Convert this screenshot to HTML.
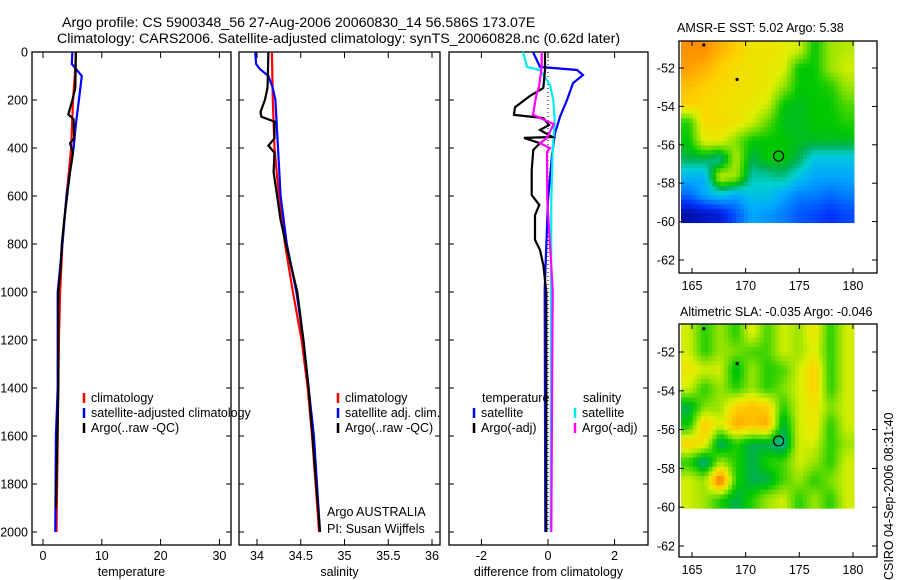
<!DOCTYPE html>
<html><head><meta charset="utf-8"><style>
body{margin:0;background:#fff;}
svg{display:block;font-family:"Liberation Sans",sans-serif;}
text{fill:#000;}
</style></head><body>
<svg id="c" width="900" height="580" viewBox="0 0 900 580">
<text x="62" y="27" font-size="14.2">Argo profile: CS 5900348_56 27-Aug-2006 20060830_14 56.586S 173.07E</text>
<text x="57" y="43" font-size="14.2">Climatology: CARS2006. Satellite-adjusted climatology: synTS_20060828.nc (0.62d later)</text>
<text x="677" y="32" font-size="12.5">AMSR-E SST: 5.02 Argo: 5.38</text>
<text x="680" y="316" font-size="12.5">Altimetric SLA: -0.035 Argo: -0.046</text>
<text transform="translate(893,580) rotate(-90)" x="0" y="0" font-size="12.5">CSIRO 04-Sep-2006 08:31:40</text>
</svg>
<script>
// ---- data ----
const depthTicks=[0,200,400,600,800,1000,1200,1400,1600,1800,2000];
const tempTicks=[0,10,20,30];
const salTicks=[34,34.5,35,35.5,36];
const diffTicks=[-2,0,2];
const tClimDepth=[0,100,200,400,600,800,1000,1200,1400,1600,1800,2000];
const tClim=[5.6,5.4,5.1,4.8,4.0,3.3,2.9,2.7,2.6,2.5,2.4,2.3];
const tSatDepth=[0,50,70,100,200,300,400,500,600,800,1000,1400,1600,2000];
const tSat=[5.0,4.9,5.6,6.6,6.1,5.6,5.2,4.6,4.0,3.3,2.5,2.5,2.2,2.1];
const tArgoDepth=[0,150,200,260,280,360,380,420,500,600,700,800,900,1000,1400,1900];
const tArgo=[5.6,5.5,5.0,4.3,5.2,5.3,4.6,5.1,4.6,4.1,3.6,3.2,3.0,2.6,2.6,2.2];
const sClimDepth=[0,200,400,600,800,1000,1200,1400,1600,1800,2000];
const sClim=[34.17,34.18,34.2,34.25,34.32,34.41,34.51,34.58,34.63,34.67,34.71];
const sSatDepth=[0,50,70,100,150,200,400,600,800,1000,1200,1400,1600,2000];
const sSat=[33.98,33.99,34.03,34.13,34.18,34.21,34.24,34.27,34.34,34.45,34.53,34.59,34.65,34.72];
const sArgoDepth=[0,150,200,250,270,290,360,390,420,500,600,700,800,1000,1200,1400,2000];
const sArgo=[34.13,34.12,34.09,34.04,34.05,34.2,34.2,34.13,34.2,34.19,34.23,34.27,34.33,34.46,34.53,34.59,34.72];
const dTSatDepth=[0,62,75,96,130,200,270,338,430,617,990,2000];
const dTSat=[-0.45,-0.24,0.87,1.05,0.75,0.57,0.36,0.21,0.12,0,-0.1,-0.08];
const dSSatDepth=[0,62,75,137,200,283,408,617,2000];
const dSSat=[-0.75,-0.63,-0.24,0.06,0.16,0.2,0.14,0.1,0.08];
const dSArgoDepth=[0,62,145,180,262,275,300,358,380,400,417,450,617,990,2000];
const dSArgo=[-0.19,-0.19,-0.27,-0.35,-0.45,-0.24,0.17,-0.03,-0.24,0.06,-0.03,-0.03,-0.02,0.14,0.1];
const dTArgoDepth=[0,75,150,183,230,262,275,304,325,354,358,380,408,492,596,637,680,783,825,887,1000,1400,2000];
const dTArgo=[-0.09,-0.09,-0.14,-0.54,-0.99,-1.02,-0.14,0.03,-0.24,0.13,-0.72,-0.24,-0.44,-0.49,-0.49,-0.26,-0.39,-0.39,-0.24,-0.14,-0.05,-0.05,-0.05];
const latTicks=[-52,-54,-56,-58,-60,-62];
const lonTicks=[165,170,175,180];
const sstGrid=[
[.8,.8,.76,.72,.68,.68,.66,.64,.5,.6,.62],
[.78,.76,.72,.69,.68,.67,.66,.5,.5,.6,.64],
[.74,.72,.7,.69,.68,.67,.6,.5,.5,.52,.6],
[.72,.7,.69,.68,.67,.64,.5,.48,.5,.5,.55],
[.52,.7,.7,.68,.64,.56,.48,.48,.5,.5,.52],
[.5,.66,.66,.58,.5,.5,.5,.48,.48,.48,.48],
[.45,.45,.4,.62,.45,.5,.5,.45,.35,.35,.35],
[.32,.32,.64,.6,.4,.4,.42,.35,.3,.3,.3],
[.22,.3,.35,.3,.35,.35,.3,.25,.25,.22,.25],
[.05,.08,.1,.2,.3,.28,.25,.2,.18,.15,.18]];
const slaGrid=[
[.64,.52,.6,.52,.66,.54,.64,.6,.68,.52,.64],
[.64,.52,.6,.58,.54,.54,.64,.6,.66,.52,.64],
[.68,.64,.64,.47,.6,.52,.54,.64,.72,.52,.64],
[.64,.52,.6,.52,.6,.52,.58,.64,.72,.52,.64],
[.45,.58,.6,.72,.74,.72,.52,.64,.68,.58,.64],
[.5,.74,.64,.77,.74,.77,.45,.64,.68,.52,.64],
[.72,.68,.42,.52,.45,.45,.4,.64,.64,.52,.6],
[.52,.4,.6,.52,.45,.52,.54,.64,.6,.52,.64],
[.64,.6,.86,.52,.45,.45,.54,.6,.52,.58,.64],
[.64,.6,.52,.45,.52,.6,.64,.52,.6,.52,.64]];
const argoLon=173.07, argoLat=-56.586;
const dotLon=[166.1,169.2], dotLat=[-50.8,-52.6];

const NS='http://www.w3.org/2000/svg';
const svg=document.getElementById('c');
function mk(tag,at,parent){const e=document.createElementNS(NS,tag);for(const k in at)e.setAttribute(k,at[k]);(parent||svg).appendChild(e);return e;}
const Y0=52,Y1=545;
const yD=d=>52+d*0.24;
function panel(name,x0,x1,xs,ticks,tlab,leftLabels,xtitle){
  const g=mk('g',{});
  
  
  const r=mk('rect',{x:x0,y:Y0,width:x1-x0,height:Y1-Y0,fill:'none',stroke:'#000','stroke-width':1.3},g);
  
  
  ticks.forEach((v,i)=>{const x=xs(v);
    mk('line',{x1:x,x2:x,y1:Y1,y2:Y1-6,stroke:'#000'},g);mk('line',{x1:x,x2:x,y1:Y0,y2:Y0+6,stroke:'#000'},g);
    const t=mk('text',{x:x,y:560,'font-size':12.5,'text-anchor':'middle'},g);t.textContent=tlab[i];
    
    });
  depthTicks.forEach(d=>{const y=yD(d);
    mk('line',{x1:x0,x2:x0+5,y1:y,y2:y,stroke:'#000'},g);mk('line',{x1:x1,x2:x1-5,y1:y,y2:y,stroke:'#000'},g);
    if(leftLabels){const t=mk('text',{x:x0-4,y:y+4.5,'font-size':12.5,'text-anchor':'end'},g);t.textContent=d;
      
      }});
  const tt=mk('text',{x:(x0+x1)/2,y:576,'font-size':12.5,'text-anchor':'middle'},g);tt.textContent=xtitle;
  
  
  return g;}
function line(g,name,xs,vals,deps,color){
  const pts=vals.map((v,i)=>xs(v).toFixed(1)+','+yD(deps[i]).toFixed(1)).join(' ');
  const p=mk('polyline',{points:pts,fill:'none',stroke:color,'stroke-width':2.2},g);
  
  }
function leg(g,x,y,color,label){
  mk('line',{x1:x,x2:x,y1:y-7,y2:y+3,stroke:color,'stroke-width':2.5},g);
  const t=mk('text',{x:x+7,y:y+2,'font-size':12.5},g);t.textContent=label;
  
  }
// temperature panel
const xT=v=>43+v*5.88;
const gT=panel('temperature-panel',32,231,xT,tempTicks,tempTicks.map(String),true,'temperature');
line(gT,'temp-climatology',xT,tClim,tClimDepth,'#f00');
line(gT,'temp-satellite',xT,tSat,tSatDepth,'#00f');
line(gT,'temp-argo',xT,tArgo,tArgoDepth,'#000');
leg(gT,84,400,'#f00','climatology');leg(gT,84,415,'#00f','satellite-adjusted climatology');leg(gT,84,430,'#000','Argo(..raw -QC)');
// salinity panel
const xS=v=>257+(v-34)*87.5;
const gS=panel('salinity-panel',239,440,xS,salTicks,['34','34.5','35','35.5','36'],false,'salinity');
line(gS,'sal-climatology',xS,sClim,sClimDepth,'#f00');
line(gS,'sal-satellite',xS,sSat,sSatDepth,'#00f');
line(gS,'sal-argo',xS,sArgo,sArgoDepth,'#000');
leg(gS,338,400,'#f00','climatology');leg(gS,338,415,'#00f','satellite adj. clim.');leg(gS,338,430,'#000','Argo(..raw -QC)');
[['Argo AUSTRALIA',516],['PI: Susan Wijffels',533]].forEach(a=>{const t=mk('text',{x:327,y:a[1],'font-size':12.5},gS);t.textContent=a[0];
  
  });
// difference panel
const xDf=v=>548+v*33.3;
const gD=panel('difference-panel',449,648,xDf,diffTicks,['-2','0','2'],false,'difference from climatology');
mk('line',{x1:xDf(0),x2:xDf(0),y1:Y0,y2:yD(2000),stroke:'#000','stroke-dasharray':'1,3'},gD);
line(gD,'diff-temp-satellite',xDf,dTSat,dTSatDepth,'#00f');
line(gD,'diff-sal-satellite',xDf,dSSat,dSSatDepth,'#0ee');
line(gD,'diff-temp-argo',xDf,dTArgo,dTArgoDepth,'#000');
line(gD,'diff-sal-argo',xDf,dSArgo,dSArgoDepth,'#f0f');
{const t=mk('text',{x:482,y:402,'font-size':12.5},gD);t.textContent='temperature';
 const t2=mk('text',{x:583,y:402,'font-size':12.5},gD);t2.textContent='salinity';}
leg(gD,474,415,'#00f','satellite');leg(gD,474,430,'#000','Argo(-adj)');
leg(gD,575,415,'#0ee','satellite');leg(gD,575,430,'#f0f','Argo(-adj)');
// maps
const stops=[[0,[0,0,128]],[.15,[0,48,255]],[.3,[0,168,255]],[.38,[0,208,208]],[.45,[0,176,80]],[.5,[0,200,0]],[.58,[128,224,0]],[.65,[224,240,0]],[.72,[255,208,0]],[.8,[255,144,0]],[.9,[208,80,0]]];
function col(v){for(let i=1;i<stops.length;i++){if(v<=stops[i][0]){const a=stops[i-1],b=stops[i],f=(v-a[0])/(b[0]-a[0]);return 'rgb('+a[1].map((c,k)=>Math.round(c+(b[1][k]-c)*f)).join(',')+')';}}return 'rgb(208,80,0)';}
function map(name,grid,top,yOf,frameBottom){
  const g=mk('g',{});
  
  
  const xL=lon=>692+(lon-165)*10.73;
  const x0=681,x1=854,y0=top,y1=yOf(-60.05);
  const R=grid.length,C=grid[0].length,U=4;
  const NR=R*U,NC=C*U,cw=(x1-x0)/NC,ch=(y1-y0)/NR;
  for(let i=0;i<NR;i++)for(let j=0;j<NC;j++){
    const fr=Math.min(Math.max((i+.5)/U-.5,0),R-1),fc=Math.min(Math.max((j+.5)/U-.5,0),C-1);
    const r0=Math.floor(fr),c0=Math.floor(fc),r1=Math.min(r0+1,R-1),c1=Math.min(c0+1,C-1),a=fr-r0,b=fc-c0;
    const v=grid[r0][c0]*(1-a)*(1-b)+grid[r0][c1]*(1-a)*b+grid[r1][c0]*a*(1-b)+grid[r1][c1]*a*b;
    mk('rect',{x:(x0+j*cw).toFixed(2),y:(y0+i*ch).toFixed(2),width:(cw+.5).toFixed(2),height:(ch+.5).toFixed(2),fill:col(v)},g);}
  const fr=mk('rect',{x:679,y:top,width:198,height:frameBottom-top,fill:'none',stroke:'#000','stroke-width':1.3},g);
  
  
  lonTicks.forEach(l=>{const x=xL(l);mk('line',{x1:x,x2:x,y1:frameBottom,y2:frameBottom-5,stroke:'#000'},g);mk('line',{x1:x,x2:x,y1:top,y2:top+5,stroke:'#000'},g);
    const t=mk('text',{x:x,y:frameBottom+17,'font-size':12.5,'text-anchor':'middle'},g);t.textContent=l;
    
    });
  latTicks.forEach(l=>{const y=yOf(l);mk('line',{x1:679,x2:684,y1:y,y2:y,stroke:'#000'},g);mk('line',{x1:877,x2:872,y1:y,y2:y,stroke:'#000'},g);
    const t=mk('text',{x:675,y:y+4.5,'font-size':12.5,'text-anchor':'end'},g);t.textContent=l;
    
    });
  const c=mk('circle',{cx:xL(argoLon),cy:yOf(argoLat),r:5,fill:'none',stroke:'#000','stroke-width':1.2},g);
  
  
  dotLon.forEach((l,i)=>{const d=mk('circle',{cx:xL(l),cy:yOf(dotLat[i]),r:1.6,fill:'#000'},g);
    
    });}
map('sst-map',sstGrid,41,lat=>68+(-52-lat)*19.2,273);
map('sla-map',slaGrid,324,lat=>352+(-52-lat)*19.4,557);
</script>
</body></html>
